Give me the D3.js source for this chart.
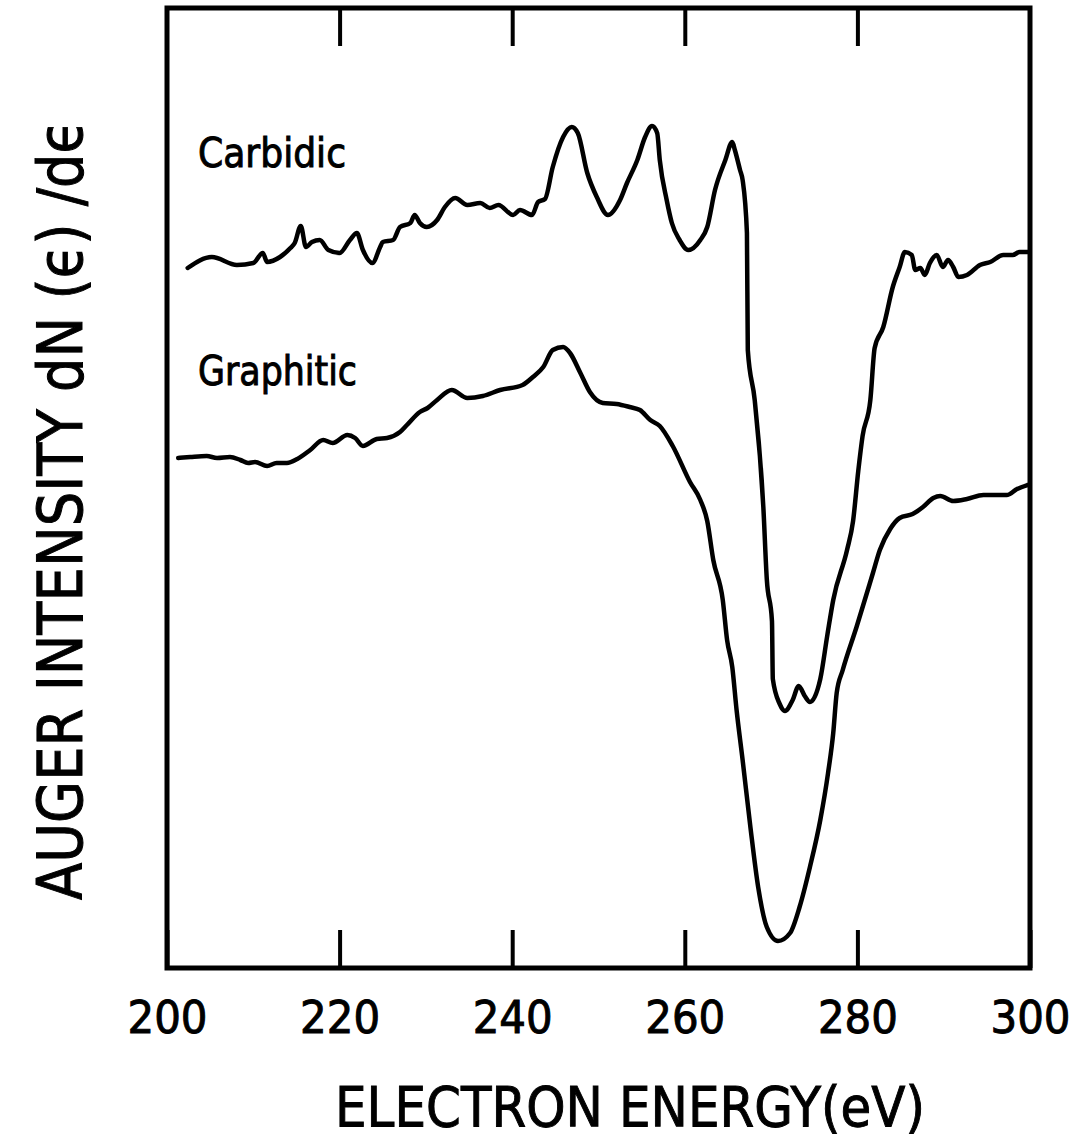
<!DOCTYPE html>
<html>
<head>
<meta charset="utf-8">
<script src="https://d3js.org/d3.v7.min.js"></script>
<style>
  body { margin: 0; background: #fff; }
  svg { display: block; }
  text { font-family: "DejaVu Sans", sans-serif; fill: #000; stroke: #000; stroke-width: 1; }
</style>
</head>
<body>
<div id="chart"></div>
<script>
// electron energy (eV) and Auger intensity (arbitrary units)
var carbidicEnergy = [202.4, 205.2, 208.1, 210.0, 211.1, 211.6, 213.1, 214.3, 214.8, 215.5,
  216.1, 216.8, 217.7, 218.7, 220.0, 221.2, 222.0, 222.7, 223.8, 224.7,
  225.0, 226.2, 227.0, 228.2, 228.7, 229.3, 230.1, 231.3, 232.2, 233.4,
  234.8, 236.3, 237.4, 238.4, 240.1, 240.9, 242.3, 243.0, 243.8, 244.7,
  245.9, 246.9, 247.6, 248.7, 249.8, 251.1, 252.5, 253.3, 254.5, 255.4,
  256.2, 256.8, 257.1, 257.9, 258.5, 259.4, 260.4, 261.8, 262.6, 263.5,
  264.7, 265.5, 265.8, 266.4, 266.7, 267.2, 267.3, 268.1, 269.1, 269.5,
  270.1, 270.2, 271.0, 271.6, 272.5, 273.2, 273.9, 274.5, 275.7, 276.5,
  277.2, 278.8, 279.5, 280.1, 280.6, 281.5, 282.0, 283.0, 284.1, 284.9,
  285.5, 286.3, 286.7, 287.3, 287.8, 288.4, 289.2, 289.9, 290.5, 291.1,
  291.7, 292.7, 294.2, 295.4, 296.9, 298.0, 298.8, 299.8];
var carbidic = [70.0, 71.1, 70.3, 70.5, 71.5, 70.6, 71.1, 72.0, 72.5, 74.2,
  72.1, 72.6, 72.8, 71.8, 71.5, 72.8, 73.5, 71.8, 70.5, 72.1,
  72.6, 72.8, 74.1, 74.5, 75.3, 74.5, 74.1, 74.8, 76.1, 77.0,
  76.3, 76.5, 76.0, 76.3, 75.3, 75.8, 75.3, 76.6, 76.9, 80.1,
  83.1, 84.1, 83.5, 79.5, 77.1, 75.3, 76.8, 78.5, 80.8, 83.1,
  84.2, 83.5, 80.8, 76.8, 74.5, 72.8, 71.8, 72.8, 74.1, 77.8,
  80.8, 82.6, 81.8, 79.8, 78.8, 73.5, 61.8, 56.8, 46.1, 38.9,
  34.7, 28.9, 26.4, 25.7, 26.8, 28.2, 27.2, 26.6, 28.9, 33.2,
  36.8, 41.8, 44.7, 49.7, 53.2, 56.8, 62.0, 64.1, 68.1, 70.1,
  71.6, 71.3, 69.8, 70.0, 69.3, 70.5, 71.3, 70.1, 70.8, 70.1,
  69.1, 69.3, 70.3, 70.6, 71.3, 71.3, 71.6, 71.6];

var graphiticEnergy = [201.3, 202.7, 204.6, 205.8, 207.3, 208.5, 209.4, 210.2, 211.6, 212.7,
  213.9, 215.1, 216.6, 218.1, 219.2, 220.9, 221.8, 222.7, 224.3, 225.5,
  227.0, 227.8, 229.3, 230.2, 231.3, 233.0, 234.8, 236.6, 238.6, 241.2,
  242.4, 243.6, 244.7, 245.9, 246.7, 247.9, 249.0, 250.5, 252.1, 253.6,
  254.8, 256.0, 257.1, 258.6, 260.6, 261.8, 262.6, 263.3, 264.4, 264.9,
  265.5, 266.0, 266.7, 267.6, 268.5, 269.5, 270.8, 272.2, 273.3, 274.5,
  275.7, 276.6, 277.2, 277.6, 278.3, 279.9, 281.8, 282.6, 283.8, 284.9,
  286.4, 287.6, 288.8, 289.6, 291.1, 292.7, 294.6, 297.3, 298.5, 299.7];
var graphitic = [51.0, 51.1, 51.2, 51.0, 51.1, 50.8, 50.5, 50.6, 50.2, 50.5,
  50.5, 50.9, 51.8, 52.8, 52.5, 53.3, 53.0, 52.2, 52.9, 53.0,
  53.6, 54.3, 55.6, 56.0, 56.8, 57.8, 57.0, 57.2, 57.8, 58.3,
  59.1, 60.1, 61.8, 62.1, 61.5, 59.5, 57.6, 56.5, 56.4, 56.1,
  55.8, 54.8, 54.2, 52.2, 48.6, 46.8, 44.7, 40.8, 36.8, 32.8,
  30.1, 25.8, 20.8, 14.1, 8.1, 4.1, 2.7, 3.5, 6.1, 10.1,
  14.8, 19.5, 23.5, 27.5, 29.8, 34.1, 39.5, 41.8, 43.9, 45.0,
  45.4, 46.1, 47.0, 47.2, 46.7, 46.9, 47.3, 47.3, 47.9, 48.3];

var tickLabels = [200, 220, 240, 260, 280, 300];
var innerTicks = [220, 240, 260, 280];
var seriesNames = ["Carbidic", "Graphitic"];

var width = 1080, height = 1138;
var svg = d3.select("#chart").append("svg")
    .attr("width", width)
    .attr("height", height);

var x = d3.scaleLinear().domain([200, 300]).range([167, 1030]);
var y = d3.scaleLinear().domain([0, 96]).range([968, 8]);

// inward ticks, bottom and top
var bottomAxis = svg.append("g")
    .attr("transform", "translate(0," + y(0) + ")")
    .call(d3.axisBottom(x).tickValues(tickLabels).tickSize(-38).tickPadding(33));
bottomAxis.select(".domain").remove();
bottomAxis.selectAll(".tick line").attr("stroke", "#000").attr("stroke-width", 4);
bottomAxis.selectAll(".tick text")
    .style("font-size", "45px")
    .attr("textLength", 80)
    .attr("lengthAdjust", "spacingAndGlyphs");

var topAxis = svg.append("g")
    .attr("transform", "translate(0," + y(96) + ")")
    .call(d3.axisTop(x).tickValues(innerTicks).tickSize(-38).tickFormat(""));
topAxis.select(".domain").remove();
topAxis.selectAll(".tick line").attr("stroke", "#000").attr("stroke-width", 4);

// frame
svg.append("rect")
    .attr("x", x(200))
    .attr("y", y(96))
    .attr("width", x(300) - x(200))
    .attr("height", y(0) - y(96))
    .attr("fill", "none")
    .attr("stroke", "#000")
    .attr("stroke-width", 5);

var line = d3.line()
    .x(function (d) { return x(d[0]); })
    .y(function (d) { return y(d[1]); })
    .curve(d3.curveMonotoneX);

var series = [d3.zip(carbidicEnergy, carbidic), d3.zip(graphiticEnergy, graphitic)];

svg.selectAll("path.trace")
    .data(series)
    .enter().append("path")
    .attr("class", "trace")
    .attr("d", line)
    .attr("fill", "none")
    .attr("stroke", "#000")
    .attr("stroke-width", 4.5)
    .attr("stroke-linejoin", "round")
    .attr("stroke-linecap", "round");

// curve labels
svg.append("text")
    .attr("x", 198).attr("y", 167)
    .style("font-size", "40px")
    .attr("textLength", 148).attr("lengthAdjust", "spacingAndGlyphs")
    .text(seriesNames[0]);
svg.append("text")
    .attr("x", 198).attr("y", 385)
    .style("font-size", "40px")
    .attr("textLength", 159).attr("lengthAdjust", "spacingAndGlyphs")
    .text(seriesNames[1]);

// axis titles
svg.append("text")
    .attr("x", 335).attr("y", 1126)
    .style("font-size", "56px")
    .attr("textLength", 590).attr("lengthAdjust", "spacingAndGlyphs")
    .text("ELECTRON ENERGY(eV)");

svg.append("text")
    .attr("transform", "translate(82,510) rotate(-90)")
    .attr("text-anchor", "middle")
    .style("font-size", "62px")
    .attr("textLength", 780).attr("lengthAdjust", "spacingAndGlyphs")
    .text("AUGER INTENSITY dN (\u03F5) /d\u03F5");
</script>
</body>
</html>
